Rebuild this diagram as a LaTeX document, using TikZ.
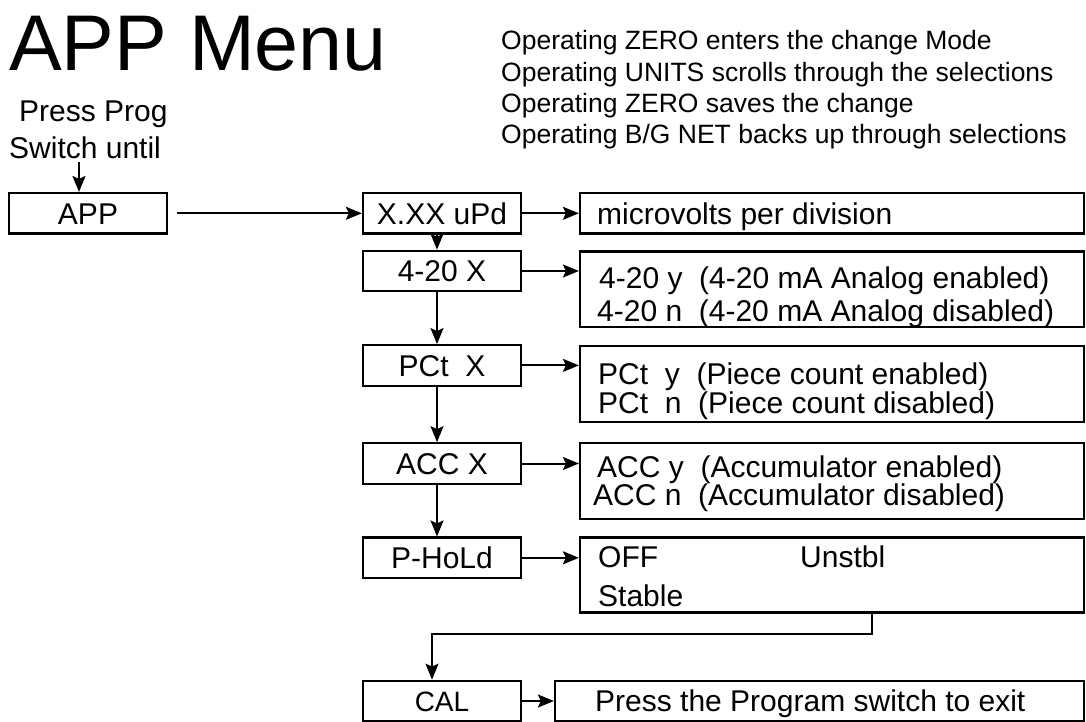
\documentclass[tikz,border=0pt]{standalone}
\usepackage{fontspec}
\setmainfont{Liberation Sans}
\usetikzlibrary{arrows.meta}
\tikzset{
  box/.style={draw, line width=2.2pt, inner sep=0pt},
  lbox/.style={box, minimum width=158pt, minimum height=40.5pt, text height=21.5pt, text depth=0pt, font=\fontsize{30}{36}\selectfont},
  rbox/.style={box, minimum width=504pt},
  txt/.style={anchor=base west, inner sep=0pt, font=\fontsize{30}{36}\selectfont},
  ins/.style={anchor=base west, inner sep=0pt, font=\fontsize{26.5}{31}\selectfont},
  arr/.style={line width=2pt, -{Stealth[length=16pt,width=13pt,inset=3pt]}},
}
\begin{document}
\begin{tikzpicture}[x=1pt, y=-1pt]
\useasboundingbox (0,0) rectangle (1086,722);
% title and notes
\node[anchor=base west, inner sep=0pt, font=\fontsize{79}{90}\selectfont] (title) at (9,70.6) {APP Menu};
\node[ins] (ins1) at (501,50) {Operating ZERO enters the change Mode};
\node[ins] (ins2) at (501,81.3) {Operating UNITS scrolls through the selections};
\node[ins] (ins3) at (501,112.6) {Operating ZERO saves the change};
\node[ins] (ins4) at (501,144) {Operating B/G NET backs up through selections};
\node[txt] (p1) at (19,122) {Press Prog};
\node[txt] (p2) at (9,159) {Switch until};
% left boxes
\node[lbox] (app) at (88,213.3) {APP};
\node[lbox] (xxx) at (442,213.3) {X.XX uPd};
\node[lbox] (a420) at (442,271) {4-20 X};
\node[lbox] (pct) at (442,365.4) {PCt\ \ X};
\node[lbox] (acc) at (442,463.5) {ACC X};
\node[lbox] (phold) at (442,557.8) {P-HoLd};
\node[lbox, font=\fontsize{28}{32}\selectfont, text height=20pt] (cal) at (442,701) {CAL};
% right boxes
\node[rbox, minimum height=40.5pt] (rxxx) at (832,213.3) {};
\node[rbox, minimum height=75.5pt] (r420) at (832,289.3) {};
\node[rbox, minimum height=76pt] (rpct) at (832,384) {};
\node[rbox, minimum height=76pt] (racc) at (832,481) {};
\node[rbox, minimum height=75pt] (rph) at (832,575) {};
\node[box, minimum width=529pt, minimum height=40pt] (rcal) at (819.5,701) {};
% right box texts
\node[txt] (t1) at (597,224) {microvolts per division};
\node[txt] (t2) at (599,288) {4-20 y\ \ (4-20 mA Analog enabled)};
\node[txt] (t3) at (597,321) {4-20 n\ \ (4-20 mA Analog disabled)};
\node[txt] (t4) at (598,384) {PCt\ \ y\ \ (Piece count enabled)};
\node[txt] (t5) at (598,413) {PCt\ \ n\ \ (Piece count disabled)};
\node[txt] (t6) at (597,477) {ACC y\ \ (Accumulator enabled)};
\node[txt] (t7) at (593,505) {ACC n\ \ (Accumulator disabled)};
\node[txt] (t8) at (598,567) {OFF};
\node[txt] (t9) at (800,567) {Unstbl};
\node[txt] (t10) at (598,606) {Stable};
\node[txt] (t11) at (595,711) {Press the Program switch to exit};
% connectors
\coordinate (s) at (79,162);
\draw[arr] (s) -- (s |- app.north);
\draw[arr] ([xshift=9pt]app.east) -- (xxx.west);
\draw[arr] (xxx.east) -- (rxxx.west);
\draw[arr] (a420.east) -- (a420.east -| r420.west);
\draw[arr] (pct.east) -- (pct.east -| rpct.west);
\draw[arr] (acc.east) -- (acc.east -| racc.west);
\draw[arr] (phold.east) -- (phold.east -| rph.west);
\draw[arr] (cal.east) -- (cal.east -| rcal.west);
\draw[arr] ([xshift=-5pt]xxx.south) -- ([xshift=-5pt]a420.north);
\draw[arr] ([xshift=-5pt]a420.south) -- ([xshift=-5pt]pct.north);
\draw[arr] ([xshift=-5pt]pct.south) -- ([xshift=-5pt]acc.north);
\draw[arr] ([xshift=-5pt]acc.south) -- ([xshift=-5pt]phold.north);
\coordinate (c1) at (872,633.5);
\coordinate (c2) at (432,633.5);
\draw[arr] (c1 |- rph.south) -- (c1) -- (c2) -- (c2 |- cal.north);
\end{tikzpicture}
\end{document}
